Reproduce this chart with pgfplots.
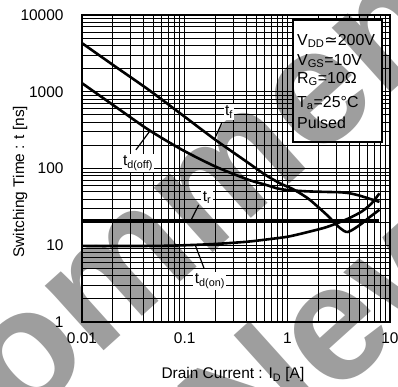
\documentclass[border=0pt]{standalone}
\usepackage{fontspec}
\setmainfont{Liberation Sans}
\newfontfamily\symfont{DejaVu Sans}
\usepackage{pgfplots}
\pgfplotsset{compat=1.18}

\newcommand\chartfont{\fontsize{15.5}{18}\selectfont}
\newcommand\boxfont{\fontsize{16}{19}\selectfont}
\newcommand\markfont{\bfseries\fontsize{166}{166}\selectfont}

\begin{document}
\begin{tikzpicture}
\begin{axis}[
  scale only axis, width=308bp, height=307bp,
  xmode=log, ymode=log,
  xmin=0.01, xmax=10, ymin=1, ymax=10000,
  xtick={0.01,0.1,1,10}, xticklabels={0.01,0.1,1,10},
  ytick={1,10,100,1000,10000}, yticklabels={1,10,100,1000,10000},
  minor xtick={0.02,0.03,0.04,0.05,0.06,0.07,0.08,0.09,
               0.2,0.3,0.4,0.5,0.6,0.7,0.8,0.9,
               2,3,4,5,6,7,8,9},
  minor ytick={2,3,4,5,6,7,8,9,
               20,30,40,50,60,70,80,90,
               200,300,400,500,600,700,800,900,
               2000,3000,4000,5000,6000,7000,8000,9000},
  grid=both,
  major grid style={black, line width=1bp},
  minor grid style={black, line width=1bp},
  major tick length=0pt, minor tick length=0pt,
  axis line style={line width=2.2bp},
  ticklabel style={font=\chartfont},
  xticklabel style={yshift=-7bp},
  yticklabel style={xshift=-15bp},
  label style={font=\chartfont},
  xlabel={Drain Current : I\textsubscript{D} [A]},
  ylabel={Switching Time : t [ns]},
  xlabel style={at={(axis description cs:0.49,-0.1726)}, anchor=center},
  ylabel style={at={(axis description cs:-0.201,0.457)}, anchor=center},
  clip=false,
]
% t_f
\addplot[black, line width=2.6bp, smooth, tension=0.45] coordinates {
  (0.01,4300) (0.0211,2130) (0.0446,1060) (0.0946,500) (0.1995,236)
  (0.422,117) (0.6,84) (0.85,64) (1.1,55) (1.35,47) (1.66,39)
  (2.43,24.8) (3.25,16.8) (3.89,14.9) (5.09,18.4) (6.37,23.4) (7.9,29)
};
% t_d(off)
\addplot[black, line width=2.6bp, smooth, tension=0.45] coordinates {
  (0.01,1294) (0.0211,641) (0.0446,319) (0.0946,175) (0.1995,106)
  (0.422,71) (0.6,62) (0.8,55) (1.0,52.5) (1.5,50.5) (2.43,49.5)
  (3.3,49) (4.07,47.5) (5.0,44.5) (5.96,41.4) (7.9,36.7)
};
% t_r
\addplot[black, line width=2.6bp] coordinates {
  (0.01,21) (7.9,21)
};
% t_d(on)
\addplot[black, line width=2.6bp, smooth, tension=0.45] coordinates {
  (0.01,9.8) (0.05,9.8) (0.1,10) (0.2,10.4) (0.4,11.1) (0.6,11.8)
  (1.0,12.9) (1.5,14.6) (2.43,17.3) (3.85,22) (5.3,27.5) (6.6,35) (7.9,47.5)
};

% leader lines from the curve names
\draw[line width=1.2bp] (axis cs:0.23,393) -- (axis cs:0.195,240);
\draw[line width=1.2bp] (axis cs:0.0335,175) -- (axis cs:0.046,310);
\draw[line width=1.2bp] (axis cs:0.137,33.6) -- (axis cs:0.115,21);
\draw[line width=1.2bp] (axis cs:0.154,5.07) -- (axis cs:0.127,10);

\coordinate (lblf) at (axis cs:0.27,547);
\coordinate (lbldoff) at (axis cs:0.0351,118);
\coordinate (lblr) at (axis cs:0.165,41.4);
\coordinate (lbldon) at (axis cs:0.176,3.42);

% test conditions
\draw[line width=2bp, fill=white]
  (axis description cs:0.685,0.586) rectangle (axis description cs:0.974,0.984);
\begin{scope}[every node/.style={anchor=base west, inner sep=0pt, font=\boxfont}]
\node at (axis description cs:0.698,0.902) {V\textsubscript{DD}{\symfont ≃}200V};
\node at (axis description cs:0.698,0.837) {V\textsubscript{GS}=10V};
\node at (axis description cs:0.698,0.7775) {R\textsubscript{G}=10Ω};
\node at (axis description cs:0.698,0.699) {T\textsubscript{a}=25°C};
\node at (axis description cs:0.698,0.629) {Pulsed};
\end{scope}
\end{axis}

% watermark
\begin{scope}
\clip (-82bp,-65bp) rectangle (316bp,322bp);
\node[anchor=base west, rotate=42, inner sep=0pt, opacity=0.38, font=\markfont]
  at (-287bp,-307.5bp) {Recommended};
\node[anchor=base west, rotate=42, inner sep=0pt, opacity=0.38, font=\markfont]
  at (-35bp,-334.8bp) {for New Design};
\end{scope}

% curve names
\begin{scope}[every node/.style={fill=white, inner sep=1.5bp, font=\chartfont}]
\node at (lblf) {t\textsubscript{f}};
\node at (lbldoff) {t\textsubscript{d(off)}};
\node at (lblr) {t\textsubscript{r}};
\node at (lbldon) {t\textsubscript{d(on)}};
\end{scope}

\pgfresetboundingbox
\path[use as bounding box] (-82bp,-65bp) rectangle (316bp,322bp);
\end{tikzpicture}
\end{document}
